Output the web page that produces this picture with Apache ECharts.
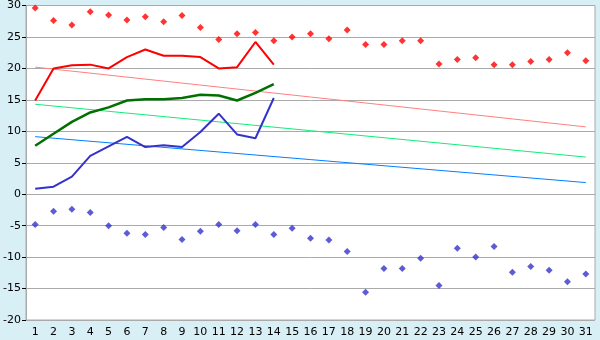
<!DOCTYPE html>
<html><head><meta charset="utf-8">
<script src="https://cdn.jsdelivr.net/npm/echarts@6/dist/echarts.min.js"></script>
<style>html,body{margin:0;padding:0;background:#d9eff6;}#c{width:600px;height:340px;}</style>
</head><body><div id="c"></div>
<script>
var days = ['1','2','3','4','5','6','7','8','9','10','11','12','13','14','15','16','17','18','19','20','21','22','23','24','25','26','27','28','29','30','31'];
var recordMax = [29.6,27.6,26.9,29.0,28.5,27.7,28.2,27.4,28.4,26.5,24.6,25.5,25.7,24.4,25.0,25.5,24.7,26.1,23.8,23.8,24.4,24.4,20.7,21.4,21.7,20.6,20.6,21.1,21.4,22.5,21.2];
var recordMin = [-4.8,-2.7,-2.4,-2.9,-5.0,-6.2,-6.4,-5.3,-7.2,-5.9,-4.8,-5.8,-4.8,-6.4,-5.4,-7.0,-7.3,-9.1,-15.6,-11.8,-11.8,-10.2,-14.5,-8.6,-10.0,-8.3,-12.4,-11.5,-12.1,-13.9,-12.7];
var maxTemp = [14.9,20.0,20.5,20.6,20.0,21.8,23.0,22.0,22.0,21.8,20.0,20.2,24.2,20.6];
var avgTemp = [7.7,9.6,11.5,13.0,13.8,14.9,15.1,15.1,15.3,15.8,15.7,14.9,16.1,17.5];
var minTemp = [0.85,1.2,2.8,6.1,7.6,9.1,7.5,7.8,7.5,9.9,12.8,9.5,8.9,15.3];
var trendMaxEnds = [20.2, 10.7];
var trendAvgEnds = [14.3, 5.9];
var trendMinEnds = [9.15, 1.85];

function ends(e){var a=[];for(var i=0;i<days.length;i++)a.push(null);a[0]=e[0];a[days.length-1]=e[1];return a;}

var chart = echarts.init(document.getElementById('c'));
var lbl = {color:'#000', fontFamily:'DejaVu Sans', fontSize:11};
chart.setOption({
  backgroundColor:'#d9eff6',
  animation:false,
  grid:{left:26,right:5,top:5,bottom:20,show:true,backgroundColor:'#fff',borderColor:'#aaa',borderWidth:1},
  xAxis:{type:'category',data:days,boundaryGap:true,
    axisLine:{lineStyle:{color:'#aaa'}},
    axisTick:{alignWithLabel:true,length:5,lineStyle:{color:'#000'}},
    axisLabel:Object.assign({margin:7,interval:0},lbl),
    splitLine:{show:false}},
  yAxis:{type:'value',min:-20,max:30,interval:5,
    axisLine:{show:true,lineStyle:{color:'#aaa'}},
    axisTick:{show:true,length:4,lineStyle:{color:'#000'}},
    axisLabel:Object.assign({margin:5},lbl),
    splitLine:{lineStyle:{color:'#aaa',width:1}}},
  series:[
    {type:'line',data:ends(trendMaxEnds),connectNulls:true,symbol:'none',lineStyle:{color:'#ff8080',width:1},z:2},
    {type:'line',data:ends(trendAvgEnds),connectNulls:true,symbol:'none',lineStyle:{color:'#11ee77',width:1},z:2},
    {type:'line',data:ends(trendMinEnds),connectNulls:true,symbol:'none',lineStyle:{color:'#0080ff',width:1},z:2},
    {type:'line',data:maxTemp,symbol:'none',lineStyle:{color:'#ff0000',width:2},z:3},
    {type:'line',data:avgTemp,symbol:'none',lineStyle:{color:'#007000',width:2.5},z:3},
    {type:'line',data:minTemp,symbol:'none',lineStyle:{color:'#3333cc',width:2},z:3},
    {type:'scatter',data:recordMax,symbol:'diamond',symbolSize:7,itemStyle:{color:'#ff0000'},z:4},
    {type:'scatter',data:recordMin,symbol:'diamond',symbolSize:7,itemStyle:{color:'#3333cc'},z:4}
  ]
});
</script></body></html>
